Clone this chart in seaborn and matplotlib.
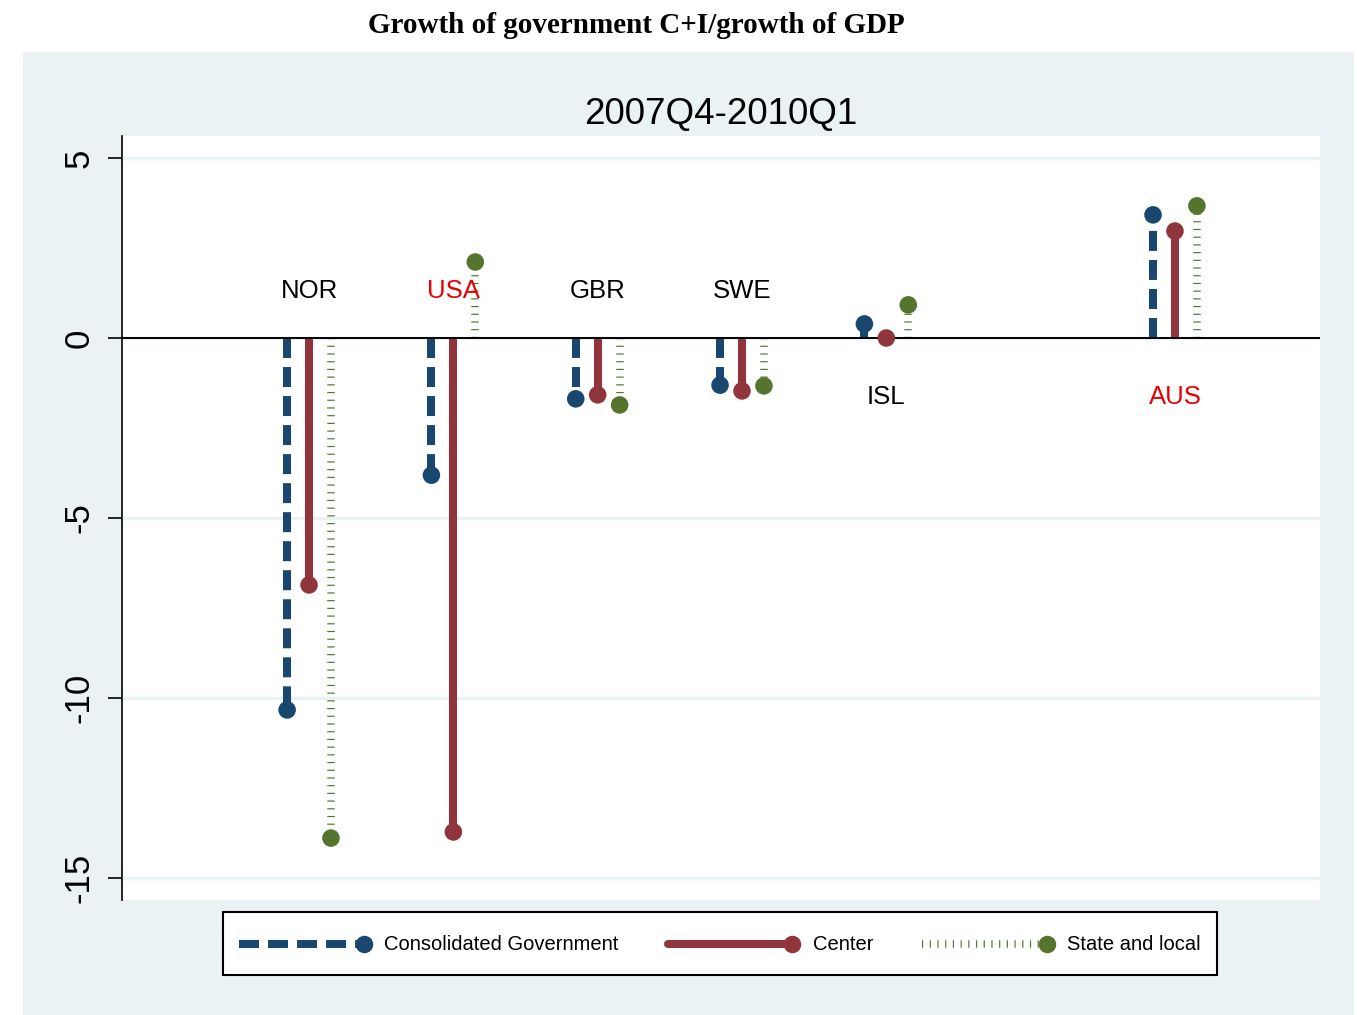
import numpy as np
import pandas as pd
import matplotlib
matplotlib.use("Agg")
import matplotlib.pyplot as plt
import seaborn as sns
from matplotlib.lines import Line2D
from matplotlib.patches import Rectangle
from matplotlib.legend_handler import HandlerLine2D

# data
countries = ["NOR", "USA", "GBR", "SWE", "ISL", "AUS"]
consolidated = [-10.33, -3.81, -1.69, -1.31, 0.39, 3.42]
center = [-6.86, -13.72, -1.58, -1.47, 0.0, 2.97]
state_local = [-13.89, 2.11, -1.86, -1.33, 0.92, 3.67]
series_names = ["Consolidated Government", "Center", "State and local"]

# layout
slots = [1, 2, 3, 4, 5, 7]
label_y = [1.10, 1.10, 1.10, 1.10, -1.82, -1.82]
label_colors = ["black", "#e60000", "black", "black", "black", "#e60000"]
offsets = [-0.152, 0.0, 0.152]
colors = ["#1a476f", "#90353b", "#55752f"]
widths = [5.8, 5.8, 5.4]
styles = [(0, (14.4, 6.5)), "solid", (0, (0.85, 4.7))]

W, H = 1357, 1015
sns.set_style("white")
plt.rcParams["font.family"] = ["Liberation Sans", "DejaVu Sans"]
plt.rcParams["lines.scale_dashes"] = False
plt.rcParams["text.color"] = "black"

frames = []
for name, vals, off in zip(series_names, [consolidated, center, state_local], offsets):
    frames.append(pd.DataFrame({"country": countries, "series": name,
                                "value": vals, "xpos": np.array(slots) + off}))
df = pd.concat(frames, ignore_index=True)


class EndMarkerHandler(HandlerLine2D):
    """legend sample with marker at right end like Stata"""
    def create_artists(self, legend, orig_handle, xdescent, ydescent,
                       width, height, fontsize, trans):
        arts = super().create_artists(legend, orig_handle, xdescent, ydescent,
                                      width, height, fontsize, trans)
        for a in arts:
            a.set_markevery([2])
            a.set_ydata(np.asarray(a.get_ydata()) - 3.6)
        return arts


fig = plt.figure(figsize=(W / 100, H / 100), dpi=100, facecolor="white")
fig.add_artist(Rectangle((23 / W, 0), (1354 - 23) / W, 1 - 52 / H,
                         transform=fig.transFigure, facecolor="#eaf2f3",
                         edgecolor="none", zorder=-5))

ax = fig.add_axes([122 / W, 1 - 900 / H, (1320 - 122) / W, (900 - 136) / H])
ax.set_facecolor("white")

# stems
for name, col, lw, ls in zip(series_names, colors, widths, styles):
    sub = df[df["series"] == name]
    ax.vlines(sub["xpos"], 0, sub["value"], colors=col, linewidth=lw,
              linestyles=ls, zorder=2)

ax.axhline(0, color="black", lw=1.4, zorder=2.5)

sns.scatterplot(data=df, x="xpos", y="value", hue="series",
                palette=dict(zip(series_names, colors)), s=160,
                edgecolor="none", linewidth=0, legend=False, zorder=3, ax=ax)

for c, sx, ly, lc in zip(countries, slots, label_y, label_colors):
    ax.text(sx, ly, c, ha="center", va="baseline", fontsize=18.5, color=lc)

ax.set_xlim(-0.296, 8.005)
ax.set_ylim(-15.61, 5.61)
ax.set_xticks([])
ax.set_yticks([-15, -10, -5, 0, 5])
ax.set_yticklabels(["-15", "-10", "-5", "0", "5"])
ax.set_xlabel("")
ax.set_ylabel("")
ax.yaxis.grid(True, color="#eaf2f3", lw=2.5)
ax.set_axisbelow(True)
for s in ["top", "right", "bottom"]:
    ax.spines[s].set_visible(False)
ax.spines["left"].set_color("black")
ax.spines["left"].set_linewidth(1.2)
ax.tick_params(axis="y", direction="out", length=10, width=1.2, pad=9,
               labelsize=25, labelrotation=90, left=True, colors="black")
for lbl in ax.get_yticklabels():
    lbl.set_va("center")

ax.set_title("2007Q4-2010Q1", fontsize=26.5, pad=8.6, color="black")
fig.text(636.5 / W, 1 - 33 / H, "Growth of government C+I/growth of GDP",
         family=["Liberation Serif", "DejaVu Serif"], weight="bold",
         fontsize=21, ha="center", va="baseline", color="black")

handles = [Line2D([0], [0], color=c, lw=lw, linestyle=ls, marker="o",
                  markersize=12.6, markeredgewidth=0)
           for c, lw, ls in zip(colors, widths, styles)]
leg = fig.legend(handles, series_names, loc="center",
                 bbox_to_anchor=(720 / W, 1 - 943.5 / H), ncol=3,
                 fontsize=14.5, frameon=True, fancybox=False,
                 edgecolor="black", framealpha=1, handlelength=6.2,
                 handleheight=1.95, handletextpad=1.0, columnspacing=2.45,
                 borderpad=0.8, numpoints=1, labelcolor="black",
                 handler_map={Line2D: EndMarkerHandler()})
leg.get_frame().set_linewidth(1.5)

fig.savefig("out.png", dpi=100, facecolor="white")
